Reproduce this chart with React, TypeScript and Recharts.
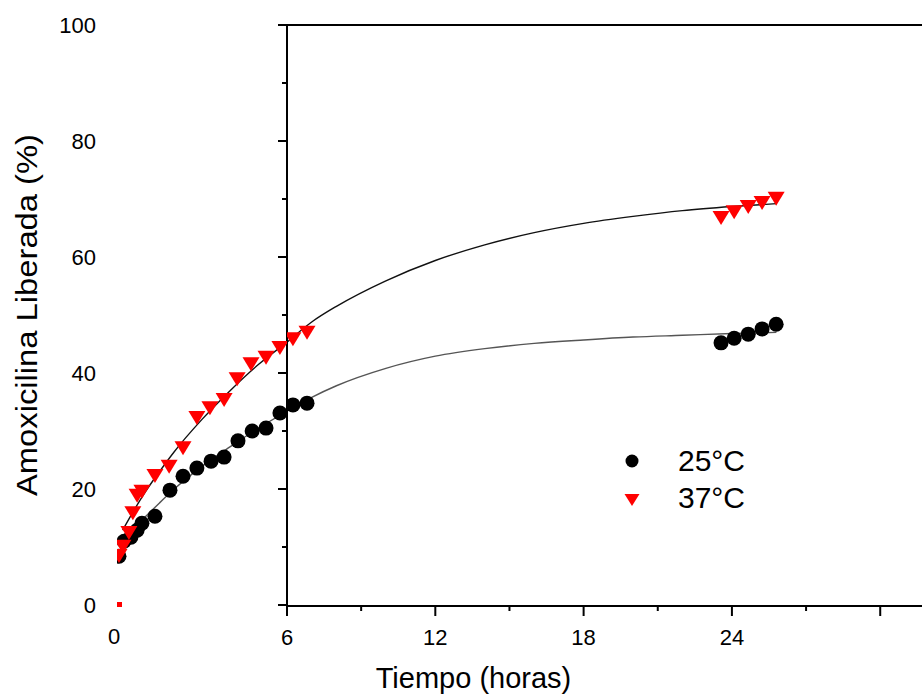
import React from "react";
import {
  ComposedChart,
  Legend,
  Line,
  ReferenceLine,
  Scatter,
  XAxis,
  YAxis,
} from "recharts";

const FONT = "'Liberation Sans', Arial, Helvetica, sans-serif";

// measured points, first 6 h (drawn on the stretched "early" time scale)
const blackEarlyX = [0.07, 0.25, 0.49, 0.71, 0.88, 1.34, 1.87, 2.33, 2.82, 3.32, 3.78, 4.27, 4.77, 5.26, 5.75];
const blackEarlyY = [8.4, 11.0, 11.7, 12.9, 14.1, 15.3, 19.8, 22.2, 23.6, 24.8, 25.5, 28.3, 30.0, 30.5, 33.1];
const redEarlyX = [0.07, 0.21, 0.42, 0.56, 0.71, 0.88, 1.34, 1.84, 2.33, 2.82, 3.28, 3.78, 4.24, 4.73, 5.26, 5.75];
const redEarlyY = [8.6, 10.2, 12.6, 16.0, 19.0, 19.7, 22.4, 24.0, 27.2, 32.4, 34.1, 35.5, 39.1, 41.7, 42.8, 44.5];

// measured points after 6 h
const blackLateX = [6.24, 6.81, 23.56, 24.09, 24.66, 25.22, 25.79];
const blackLateY = [34.5, 34.8, 45.2, 46.0, 46.7, 47.6, 48.4];
const redLateX = [6.24, 6.81, 23.56, 24.09, 24.66, 25.22, 25.79];
const redLateY = [46.0, 47.1, 66.9, 67.9, 68.8, 69.5, 70.2];

// t = 0 points (0 %)
const zeroX = [0];
const zeroY = [0];

// fitted curves
const fitEarlyX = [0.1, 0.5, 1, 1.5, 2, 3, 4, 5, 6];
const fitBlackEarlyY = [10.3, 12.6, 15.2, 17.6, 19.9, 23.9, 27.3, 30.5, 33.4];
const fitRedEarlyX = [0.2, 0.5, 1, 1.5, 2, 3, 4, 5, 6];
const fitRedEarlyY = [12.9, 15.5, 19.5, 23.0, 26.3, 32.0, 37.0, 41.5, 45.3];
const fitLateX = [6, 7, 8, 10, 12, 14, 16, 18, 20, 22, 24, 25.8];
const fitBlackLateY = [33.4, 35.8, 37.8, 40.8, 42.9, 44.2, 45.1, 45.7, 46.2, 46.5, 46.8, 47.0];
const fitRedLateY = [45.3, 48.8, 51.5, 55.9, 59.4, 62.1, 64.2, 65.8, 67.0, 68.0, 68.7, 69.2];

const yTicks = [0, 10, 20, 30, 40, 50, 60, 70, 80, 90, 100];
const lateTicks = [6, 9, 12, 15, 18, 21, 24, 27, 30];
const earlyTicks = [0];

const zip = (xs: number[], ys: number[]) => xs.map((x, i) => ({ x, y: ys[i] }));

const blackEarly = zip(blackEarlyX, blackEarlyY);
const redEarly = zip(redEarlyX, redEarlyY);
const blackLate = zip(blackLateX, blackLateY);
const redLate = zip(redLateX, redLateY);
const zeroPts = zip(zeroX, zeroY);
const fitBlackEarly = zip(fitEarlyX, fitBlackEarlyY);
const fitRedEarly = zip(fitRedEarlyX, fitRedEarlyY);
const fitBlackLate = zip(fitLateX, fitBlackLateY);
const fitRedLate = zip(fitLateX, fitRedLateY);

const Dot = (p: any) => <circle cx={p.cx} cy={p.cy} r={7.5} fill="#000" />;
const Tri = (p: any) => (
  <polygon
    points={`${p.cx - 8.5},${p.cy - 6} ${p.cx + 8.5},${p.cy - 6} ${p.cx},${p.cy + 8}`}
    fill="#ff0000"
  />
);
const ZeroMark = (p: any) => (
  <g>
    <rect x={p.cx - 1} y={p.cy - 3} width={6} height={5} fill="#ff0000" />
    <rect x={p.cx - 2} y={p.cy - 4} width={2} height={2} fill="#000" />
  </g>
);

function YTick(props: any) {
  const { x, y, payload } = props;
  const major = payload.value % 20 === 0;
  return (
    <g>
      <line x1={x - (major ? 9 : 5)} x2={x} y1={y} y2={y} stroke="#000" strokeWidth={2} />
      {major && (
        <text x={x - 191} y={y + 8} textAnchor="end" fontSize={22} fontFamily={FONT} fill="#000">
          {payload.value}
        </text>
      )}
    </g>
  );
}

function LateTick(props: any) {
  const { x, y, payload } = props;
  const major = payload.value % 6 === 0;
  return (
    <g>
      <line x1={x} x2={x} y1={y} y2={y + (major ? 10 : 5)} stroke="#000" strokeWidth={2} />
      {major && payload.value !== 30 && (
        <text x={x} y={y + 39} textAnchor="middle" fontSize={22} fontFamily={FONT} fill="#000">
          {payload.value}
        </text>
      )}
    </g>
  );
}

function EarlyTick(props: any) {
  const { x, y, payload } = props;
  return (
    <text x={x - 3} y={y + 39} textAnchor="middle" fontSize={22} fontFamily={FONT} fill="#000">
      {payload.value}
    </text>
  );
}

function YTitle(props: any) {
  const vb = props.viewBox;
  const cx = vb.x + 27;
  const cy = vb.y + vb.height / 2;
  return (
    <text
      transform={`translate(${cx}, ${cy}) rotate(-90)`}
      textAnchor="middle"
      dy="0.36em"
      fontSize={29}
      fontFamily={FONT}
      fill="#000"
      textLength={362}
      lengthAdjust="spacingAndGlyphs"
    >
      Amoxicilina Liberada (%)
    </text>
  );
}

function LegendBox() {
  return (
    <svg width={160} height={80} style={{ display: "block" }}>
      <circle cx={17} cy={21} r={6.5} fill="#000" />
      <text x={63} y={31} fontSize={30} fontFamily={FONT} fill="#000">
        25°C
      </text>
      <polygon points="9.5,54 24.5,54 17,66" fill="#ff0000" />
      <text x={63} y={68} fontSize={30} fontFamily={FONT} fill="#000">
        37°C
      </text>
    </svg>
  );
}

export default function App() {
  return (
    <div style={{ position: "absolute", left: 0, top: 0, width: 922, height: 695, background: "#fff" }}>
      <ComposedChart width={922} height={695} margin={{ top: 25, right: 0, bottom: 0, left: 0 }}>
        <XAxis
          xAxisId="early"
          type="number"
          dataKey="x"
          domain={[0, 6]}
          padding={{ left: -170, right: 635 }}
          ticks={earlyTicks}
          interval={0}
          axisLine={false}
          tickLine={false}
          tickSize={0}
          tickMargin={0}
          tick={EarlyTick}
          height={1}
          allowDataOverflow
        />
        <XAxis
          xAxisId="late"
          type="number"
          dataKey="x"
          domain={[6, 31.69]}
          ticks={lateTicks}
          interval={0}
          axisLine={{ stroke: "#000", strokeWidth: 2 }}
          tickLine={false}
          tickSize={0}
          tickMargin={0}
          tick={LateTick}
          height={89}
          allowDataOverflow
          label={{
            value: "Tiempo (horas)",
            position: "insideBottom",
            offset: 7,
            dx: -131,
            fontSize: 29,
            fontFamily: FONT,
            fill: "#000",
          }}
        />
        <YAxis
          type="number"
          dataKey="y"
          domain={[0, 100]}
          ticks={yTicks}
          interval={0}
          width={287}
          axisLine={{ stroke: "#000", strokeWidth: 2 }}
          tickLine={false}
          tickSize={0}
          tickMargin={0}
          tick={YTick}
          label={{ value: "Amoxicilina Liberada (%)", content: YTitle }}
        />
        <ReferenceLine xAxisId="late" y={100} stroke="#000" strokeWidth={2} />

        <Scatter xAxisId="early" data={zeroPts} shape={ZeroMark} legendType="none" isAnimationActive={false} />
        <Scatter xAxisId="early" name="25°C" data={blackEarly} shape={Dot} isAnimationActive={false} />
        <Scatter xAxisId="late" data={blackLate} shape={Dot} legendType="none" isAnimationActive={false} />
        <Scatter xAxisId="early" name="37°C" data={redEarly} shape={Tri} isAnimationActive={false} />
        <Scatter xAxisId="late" data={redLate} shape={Tri} legendType="none" isAnimationActive={false} />

        <Line xAxisId="early" data={fitBlackEarly} dataKey="y" type="monotone" stroke="#555" strokeWidth={1.4} dot={false} activeDot={false} legendType="none" isAnimationActive={false} />
        <Line xAxisId="late" data={fitBlackLate} dataKey="y" type="monotone" stroke="#555" strokeWidth={1.4} dot={false} activeDot={false} legendType="none" isAnimationActive={false} />
        <Line xAxisId="early" data={fitRedEarly} dataKey="y" type="monotone" stroke="#111" strokeWidth={1.4} dot={false} activeDot={false} legendType="none" isAnimationActive={false} />
        <Line xAxisId="late" data={fitRedLate} dataKey="y" type="monotone" stroke="#111" strokeWidth={1.4} dot={false} activeDot={false} legendType="none" isAnimationActive={false} />

        <Legend
          layout="horizontal"
          verticalAlign="middle"
          align="center"
          wrapperStyle={{ left: 615, top: 440, width: 160, bottom: "auto" }}
          content={LegendBox}
        />
      </ComposedChart>
    </div>
  );
}
